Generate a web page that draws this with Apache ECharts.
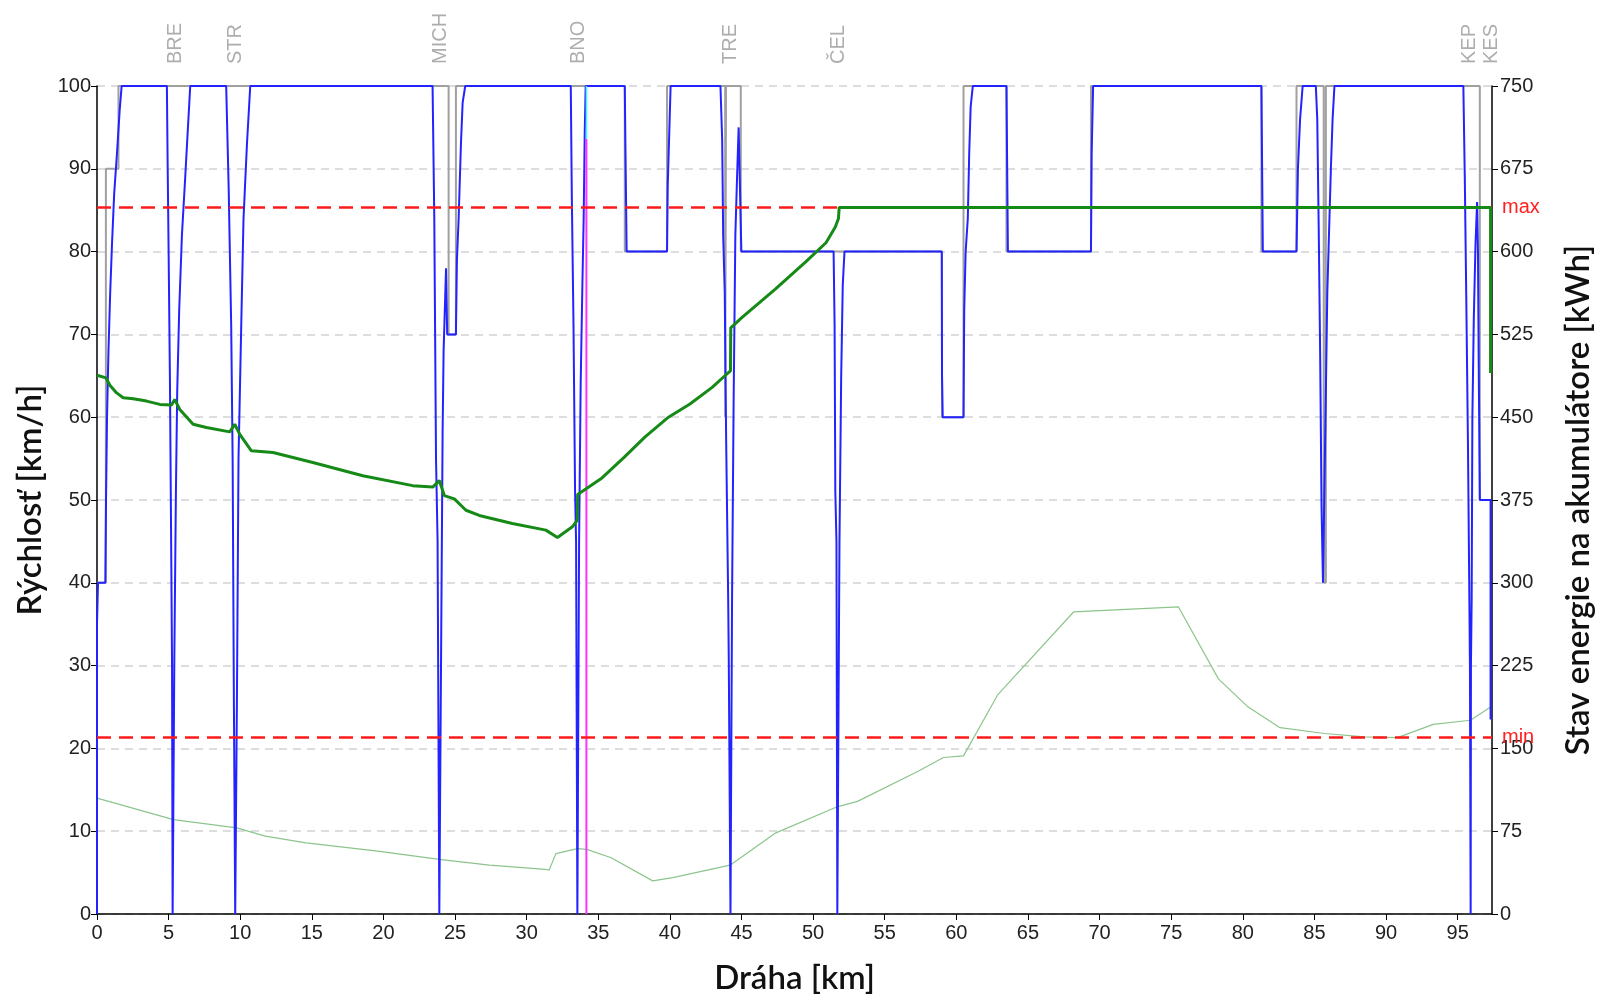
<!DOCTYPE html>
<html><head><meta charset="utf-8">
<script src="https://cdn.jsdelivr.net/npm/echarts@6/dist/echarts.min.js"></script>
<style>html,body{margin:0;padding:0;background:#fff;overflow:hidden}#c{width:1603px;height:1000px}</style>
</head><body><div id="c"></div>
<script>
// ---- data ----
const stationNames = ['BRE','STR','MICH','BNO','TRE','ČEL','KEP','KES'];
const stationKm    = [5.49, 9.70, 24.0, 33.6, 44.25, 51.8, 95.8, 97.35];

// actual speed [km, km/h]
const speed = [
 [0,0],[0,35],[0.07,40],[0.58,40],[0.63,50],[0.7,60],[0.8,68],[0.92,75],[1.05,81],[1.2,87],[1.4,92],[1.58,97],[1.72,100],
 [4.88,100],[4.93,91],[5.0,80],[5.09,65],[5.19,42],[5.24,30],[5.28,0],[5.35,0],[5.4,31],[5.51,51],[5.6,63],[5.74,73],[5.93,82],[6.16,89],[6.35,95],[6.51,100],
 [9.02,100],[9.19,88],[9.37,71],[9.47,55],[9.56,25],[9.65,0],[9.72,0],[9.77,26],[9.88,55],[10.07,71],[10.23,84],[10.47,93],[10.7,100],
 [23.43,100],[23.55,84],[23.67,55],[23.78,45],[23.9,0],[23.98,0],[24.13,58],[24.2,68],[24.37,78],[24.45,70],[25.06,70],[25.13,79],[25.25,84],[25.41,93],[25.53,98],[25.71,100],
 [33.08,100],[33.15,87],[33.27,71],[33.38,51],[33.45,45],[33.54,0],[33.62,0],[33.66,45],[33.77,64],[33.89,76],[33.98,84],[34.05,94],[34.12,100],
 [36.85,100],[36.9,92],[36.98,80],[39.8,80],[39.85,88],[40.05,100],
 [43.53,100],[43.65,93.5],[43.72,82],[43.83,75],[43.93,57],[44.07,38],[44.11,31],[44.23,0],[44.3,0],[44.34,38],[44.45,62],[44.57,82],[44.69,89],[44.8,95],[44.92,95],[44.99,80],
 [51.43,80],[51.5,71],[51.55,51],[51.63,45],[51.69,0],[51.78,0],[51.84,45],[51.96,65],[52.07,76],[52.19,80],
 [58.98,80],[59.0,65],[59.05,60],[60.5,60],[60.55,73],[60.65,80],[60.8,84],[60.9,92],[61.0,97.5],[61.15,100],
 [63.5,100],[63.55,90],[63.6,80],[69.4,80],[69.45,92],[69.55,100],
 [81.3,100],[81.4,80],[83.75,80],[83.85,90],[84.0,96],[84.18,100],
 [85.1,100],[85.2,96],[85.3,83],[85.4,68],[85.5,49],[85.6,40],[85.72,40],[85.8,63],[85.9,75],[86.05,84],[86.15,90],[86.27,96],[86.4,100],
 [95.4,100],[95.5,89],[95.6,75],[95.72,57],[95.82,38],[95.86,30],[95.91,0],[95.93,0],[95.93,30],[95.98,38],[96.03,60],[96.13,72],[96.25,81],[96.36,86],[96.42,80],[96.47,67],[96.55,50],[97.3,50],[97.3,23.5]
];

// speed limit [km, km/h]
const speedLimit = [
 [0,40],[0.62,40],[0.62,90],[1.5,90],[1.5,100],[24.55,100],[24.55,70],[25.06,70],[25.06,100],
 [36.85,100],[36.85,80],[39.8,80],[39.8,100],
 [43.86,100],[43.86,60],[43.92,60],[43.92,100],[44.95,100],[44.95,80],
 [59.0,80],[59.0,60],[60.5,60],[60.5,100],[63.5,100],[63.5,80],[69.4,80],[69.4,100],
 [81.3,100],[81.3,80],[83.75,80],[83.75,100],[85.65,100],[85.65,40],[85.8,40],[85.8,100],
 [96.55,100],[96.55,50],[97.3,50]
];

// energy state [km, kWh]
const energy = [
 [0,488],[0.63,485.6],[0.9,479],[1.37,472],[1.83,467.6],[2.53,466.7],[3.46,464.6],[4.39,461.6],[5.2,461],[5.43,466],[5.78,457],
 [6.71,443.6],[7.64,440.6],[9.27,436.7],[9.62,443.6],[9.97,434.5],[10.78,419.6],[12.29,418],[15.07,409],[18.56,397],[22.04,388],
 [23.44,386.7],[23.9,392.6],[24.25,379],[24.95,376],[25.76,365.7],[26.69,361],[29.0,353.7],[31.34,347.7],[32.15,341],[33.19,350.7],
 [33.54,356.7],[33.56,380],[35.26,395],[36.8,413.6],[38.25,432],[39.9,450],[41.4,462],[42.95,477],[43.88,488],[44.23,492],[44.25,531],
 [45.0,540],[47.36,566],[49.5,591],[50.9,608],[51.54,622],[51.77,630],[51.82,640],[97.3,640],[97.3,490]
];

// elevation profile (scaled to left axis)
const profile = [
 [0,14.0],[5.34,11.4],[9.76,10.4],[11.75,9.4],[14.6,8.6],[19.6,7.6],[23.9,6.6],[27.4,5.9],[31.3,5.4],[31.57,5.3],[32.04,7.3],
 [33.54,7.9],[34.2,7.8],[35.9,6.8],[38.8,4.0],[40.2,4.4],[44.2,5.9],[47.4,9.8],[51.6,12.9],[53.1,13.6],[57.3,17.2],[59.1,18.9],
 [60.5,19.1],[62.9,26.5],[68.2,36.5],[75.5,37.1],[78.3,28.4],[80.3,25.1],[82.6,22.5],[85.7,21.8],[88.5,21.4],[90.8,21.3],
 [93.3,22.9],[95.9,23.4],[97.3,25.0]
];

const energyMax = 640, energyMin = 160;
const markerKm = 34.17, markerSplit = 93.6;

const chart = echarts.init(document.getElementById('c'), null, {renderer:'canvas', width:1603, height:1000});
const tickFont = {fontFamily:'Liberation Sans', fontSize:20, color:'#222'};
const nameFont = {fontFamily:'Lato', fontSize:33, fontWeight:600, color:'#111'};
chart.setOption({
  animation:false,
  backgroundColor:'#fff',
  grid:{left:97, right:107, top:86, bottom:80},
  xAxis:{type:'value', min:0, max:97.4, interval:5,
    name:'Dráha [km]', nameLocation:'middle', nameGap:48, nameTextStyle:nameFont,
    axisLine:{lineStyle:{color:'#000', width:1.5}}, axisTick:{length:6, lineStyle:{color:'#000'}},
    axisLabel:Object.assign({margin:9, showMaxLabel:false}, tickFont), splitLine:{show:false}},
  yAxis:[
    {type:'value', min:0, max:100, interval:10, position:'left',
     name:'Rýchlosť [km/h]', nameLocation:'middle', nameGap:50, nameRotate:90, nameTextStyle:nameFont,
     axisLine:{show:true, lineStyle:{color:'#000', width:1.5}}, axisTick:{show:true, length:6, lineStyle:{color:'#000'}},
     axisLabel:Object.assign({margin:6}, tickFont),
     splitLine:{show:true, lineStyle:{color:'#d2d2d2', width:1.5, type:[8,6]}}},
    {type:'value', min:0, max:750, interval:75, position:'right',
     name:'Stav energie na akumulátore [kWh]', nameLocation:'middle', nameGap:70, nameRotate:90, nameTextStyle:nameFont,
     axisLine:{show:true, lineStyle:{color:'#000', width:1.5}}, axisTick:{show:true, length:6, lineStyle:{color:'#000'}},
     axisLabel:Object.assign({margin:8}, tickFont), splitLine:{show:false}}
  ],
  series:[
    {type:'line', name:'profil', data:profile, showSymbol:false, yAxisIndex:0, z:1,
     lineStyle:{color:'#8cc58c', width:1.2}},
    {type:'line', name:'limit', data:speedLimit, showSymbol:false, yAxisIndex:0, z:2,
     lineStyle:{color:'#a0a0a0', width:2}},
    {type:'line', name:'rychlost', data:speed, showSymbol:false, yAxisIndex:0, z:3,
     lineStyle:{color:'#2323ff', width:2}},
    {type:'line', name:'marker1', data:[[markerKm,0],[markerKm,markerSplit]], showSymbol:false, yAxisIndex:0, z:4,
     lineStyle:{color:'#ff33ff', width:2}},
    {type:'line', name:'marker2', data:[[markerKm,markerSplit],[markerKm,100]], showSymbol:false, yAxisIndex:0, z:4,
     lineStyle:{color:'#33ffff', width:1.5}},
    {type:'line', name:'limits', data:[], yAxisIndex:1, z:5,
     markLine:{silent:true, symbol:['none','none'],
       lineStyle:{color:'#ff1a1a', width:2.5, type:[14,8]},
       label:{show:true, position:'end', distance:10, color:'#ff2020', fontFamily:'Liberation Sans', fontSize:20},
       data:[{yAxis:energyMax, label:{formatter:'max'}},{yAxis:energyMin, label:{formatter:'min'}}]}},
    {type:'line', name:'energia', data:energy, showSymbol:false, yAxisIndex:1, z:6,
     lineStyle:{color:'#168a16', width:3}},
    {type:'scatter', name:'stanice', data:stationKm.map((k,i)=>[k,100,stationNames[i]]), yAxisIndex:0, z:7,
     symbolSize:0, silent:true,
     label:{show:true, position:'top', distance:22, rotate:90, align:'left', verticalAlign:'middle',
       formatter:p=>p.data[2], color:'#999', fontFamily:'Liberation Sans', fontSize:20}}
  ]
});
</script></body></html>
